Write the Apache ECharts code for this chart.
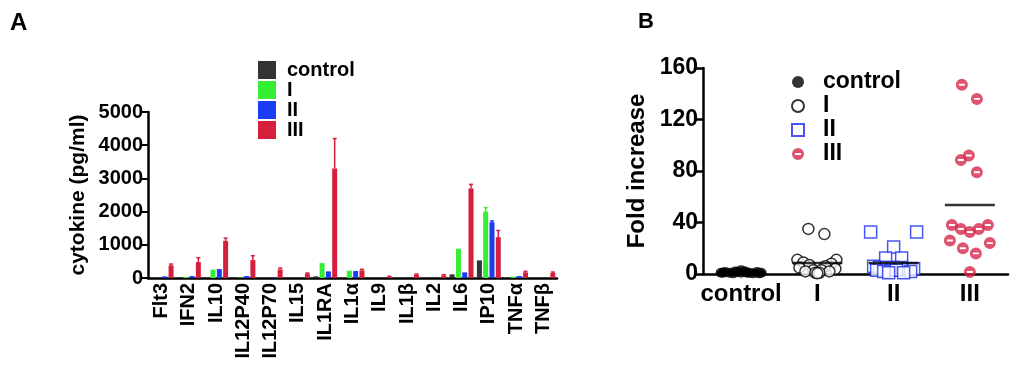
<!DOCTYPE html>
<html><head><meta charset="utf-8">
<script src="https://cdn.jsdelivr.net/npm/echarts@6/dist/echarts.min.js"></script>
<style>html,body{margin:0;padding:0;background:#fff}#c{width:1024px;height:368px}</style>
</head><body><div id="c"></div>
<script>
// ---- Panel A data ----
const cytokines = ['Flt3','IFN2','IL10','IL12P40','IL12P70','IL15','IL1RA','IL1α','IL9','IL1β','IL2','IL6','IP10','TNFα','TNFβ'];
const groups = ['control','I','II','III'];
const ctrlVals = [0,0,0,20,0,0,50,0,0,0,0,110,530,0,0];
const g1Vals   = [0,30,250,10,0,0,450,220,0,0,0,880,2000,40,0];
const g2Vals   = [50,60,270,60,20,0,200,210,0,0,0,170,1680,60,0];
const g3Vals   = [380,480,1120,540,260,130,3300,230,40,100,80,2700,1230,170,150];
const ctrlErr  = [0,0,0,0,0,0,0,0,0,0,0,0,0,0,0];
const g1Err    = [0,0,0,0,0,0,0,0,0,0,0,0,120,0,0];
const g2Err    = [0,0,0,0,0,0,0,0,0,0,0,0,40,0,0];
const g3Err    = [40,130,80,130,40,20,900,30,10,20,20,120,200,30,30];
const yTicksA = [0,1000,2000,3000,4000,5000];

// ---- Panel B data ----
const foldCats = ['control','I','II','III'];
const foldCtrl = [1,1.5,1,0.5,1.5,1,2,1,0.5,1.5,1,1,2,1,0.5,3];
const foldI    = [35,31,11,11,9,8,7,6,5,4,3,3,2,2,1,1,0.5];
const foldII   = [32.6,32.6,21,12.4,12.4,6,5,5,5,5,4,4,3,3,3,2,2,1,1];
const foldIII  = [147,136,92,88.5,79,38,35,32.6,35,38,26,20,16,24,1.5];
const foldMean = [1.2,8.5,8.5,53.6];
const yTicksB = [0,40,80,120,160];

// ---- style / layout ----
const colors = ['#333333','#33ee33','#1a3cf5','#d61f3c'];
const redB = '#d6284a';
const barW = 5, barGapPx = 1.3;
const FONT = '"Liberation Sans", Arial, sans-serif';
// horizontal jitter (pixels) for scatter points in panel B
const jitCtrl = [-20,-16,-12,-8,-4,0,4,8,12,16,20,-18,-6,6,18,0];
const jitI    = [-9,7,-20,19,-14,14,-8,8,-18,18,-4,4,-12,12,-2,2,0];
const jitII   = [-23,23,0,-8,8,-20,-14,-7,0,7,14,20,-17,-3,3,17,-10,10,-5];
const jitIII  = [-8,7,-1,-9,7,-18,-9,0,9,18,-20,-7,6,20,0];

const stripedCircle = 'path://M1,0 A1,1 0 1 1 -1,0 A1,1 0 1 1 1,0 Z M-0.5,-0.16 L-0.5,0.16 L0.5,0.16 L0.5,-0.16 Z';

const valsA = [ctrlVals,g1Vals,g2Vals,g3Vals];
const errsA = [ctrlErr,g1Err,g2Err,g3Err];

const barSeries = groups.map((g,k)=>({
  name: 'A ' + g, type:'bar', xAxisIndex:0, yAxisIndex:0,
  data: valsA[k], barWidth: barW, barGap: (barGapPx/barW*100)+'%',
  itemStyle:{color:colors[k]}, z:2
}));
const errData = [];
errsA.forEach((arr,k)=>arr.forEach((e,i)=>{ if(e>0) errData.push([i, valsA[k][i], e, k]); }));
const errSeries = {
  type:'custom', xAxisIndex:0, yAxisIndex:0, data: errData, z:3, silent:true,
  renderItem(params, api){
    const i = api.value(0), v = api.value(1), e = api.value(2), k = api.value(3);
    const off = (k-1.5)*(barW+barGapPx);
    const p0 = api.coord([i, v]), p1 = api.coord([i, v+e]);
    const x = p0[0]+off;
    const st = {stroke: colors[k], lineWidth:1.5};
    return {type:'group', children:[
      {type:'line', shape:{x1:x,y1:p0[1],x2:x,y2:p1[1]}, style:st},
      {type:'line', shape:{x1:x-2,y1:p1[1],x2:x+2,y2:p1[1]}, style:st}
    ]};
  }
};

function pts(vals, cat, jit){ return vals.map((v,i)=>({value:[cat,v], symbolOffset:[jit[i],0]})); }

const option = {
  animation:false,
  textStyle:{fontFamily:FONT},
  title:[
    {text:'A', left:5, top:6, textStyle:{fontSize:24, fontWeight:'bold', color:'#000', fontFamily:FONT}},
    {text:'B', left:633, top:6, textStyle:{fontSize:22, fontWeight:'bold', color:'#000', fontFamily:FONT}}
  ],
  legend:[
    {data: groups.map(g=>'A '+g), orient:'vertical', left:253, top:55, itemWidth:18, itemHeight:18, itemGap:0,
     icon:'rect', formatter: n=>n.slice(2), selectedMode:false,
     textStyle:{fontSize:20, fontWeight:'bold', color:'#000', lineHeight:18, fontFamily:FONT, padding:[0,0,0,6]}},
    {data: foldCats.map(g=>'B '+g), orient:'vertical', left:786, top:65, itemWidth:12, itemHeight:12, itemGap:0,
     formatter: n=>n.slice(2), selectedMode:false,
     textStyle:{fontSize:23, fontWeight:'bold', color:'#000', lineHeight:24, fontFamily:FONT, padding:[0,0,0,14]}}
  ],
  grid:[
    {left:148, right:467, top:112, bottom:90},
    {left:703, right:16, top:68, bottom:94}
  ],
  xAxis:[
    {gridIndex:0, type:'category', data:cytokines, position:'bottom',
     axisLine:{lineStyle:{color:'#000', width:2.5}},
     axisTick:{alignWithLabel:true, length:4, lineStyle:{width:2,color:'#000'}},
     axisLabel:{rotate:90, fontSize:20, fontWeight:'bold', color:'#000', margin:5, fontFamily:FONT}},
    {gridIndex:1, type:'category', data:foldCats,
     axisLine:{lineStyle:{color:'#000', width:2.5}},
     axisTick:{show:false},
     axisLabel:{interval:0, fontSize:24, fontWeight:'bold', color:'#000', margin:8, fontFamily:FONT}},
    {gridIndex:0, type:'category', data:cytokines, position:'bottom',
     axisLine:{show:false},
     axisTick:{alignWithLabel:true, inside:true, length:5, lineStyle:{width:2,color:'#000'}},
     axisLabel:{show:false}}
  ],
  yAxis:[
    {gridIndex:0, type:'value', min:yTicksA[0], max:yTicksA[yTicksA.length-1], interval:1000,
     name:'cytokine (pg/ml)', nameLocation:'middle', nameGap:59,
     nameTextStyle:{fontSize:21, fontWeight:'bold', color:'#000', fontFamily:FONT},
     splitLine:{show:false},
     axisLine:{show:true, lineStyle:{color:'#000', width:2.5}},
     axisTick:{show:true, length:6, lineStyle:{width:2,color:'#000'}},
     axisLabel:{fontSize:20, fontWeight:'bold', color:'#000', margin:5, fontFamily:FONT, formatter:v=>String(v)}},
    {gridIndex:1, type:'value', min:yTicksB[0], max:yTicksB[yTicksB.length-1], interval:40,
     name:'Fold increase', nameLocation:'middle', nameGap:54,
     nameTextStyle:{fontSize:24, fontWeight:'bold', color:'#000', fontFamily:FONT},
     splitLine:{show:false},
     axisLine:{show:true, lineStyle:{color:'#000', width:2.5}},
     axisTick:{show:true, length:7, lineStyle:{width:2.5,color:'#000'}},
     axisLabel:{fontSize:23, fontWeight:'bold', color:'#000', margin:5, fontFamily:FONT}}
  ],
  series:[
    ...barSeries, errSeries,
    {type:'scatter', xAxisIndex:1, yAxisIndex:1, silent:true, z:5,
     data: foldMean.map((m,i)=>[i,m]), symbol:'rect', symbolSize:[50,2.5], itemStyle:{color:'#000'}},
    {name:'B control', type:'scatter', xAxisIndex:1, yAxisIndex:1, data: pts(foldCtrl,0,jitCtrl),
     symbol:'circle', symbolSize:[11,10], itemStyle:{color:'#000'}},
    {name:'B I', type:'scatter', xAxisIndex:1, yAxisIndex:1, data: pts(foldI,1,jitI),
     symbol:'circle', symbolSize:11, itemStyle:{color:'#fff', borderColor:'#000', borderWidth:1.5}},
    {name:'B II', type:'scatter', xAxisIndex:1, yAxisIndex:1, data: pts(foldII,2,jitII),
     symbol:'rect', symbolSize:12, itemStyle:{color:'#fff', borderColor:'#1a2cf0', borderWidth:1.5}},
    {name:'B III', type:'scatter', xAxisIndex:1, yAxisIndex:1, data: pts(foldIII,3,jitIII),
     symbol:stripedCircle, symbolSize:12, itemStyle:{color:redB}}
  ]
};
const chart = echarts.init(document.getElementById('c'), null, {renderer:'canvas'});
chart.setOption(option);
</script>
</body></html>
